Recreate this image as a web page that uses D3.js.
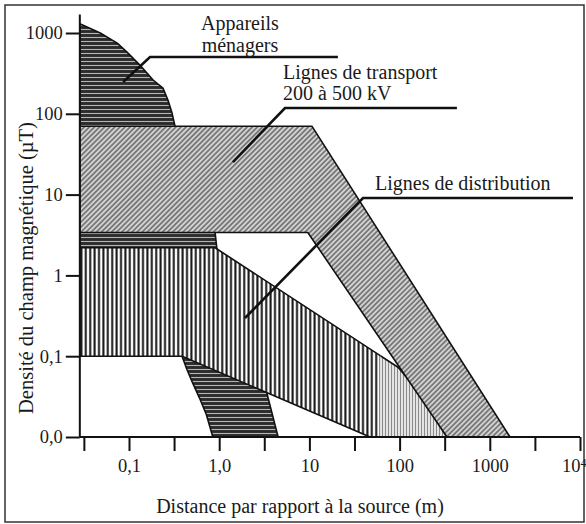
<!DOCTYPE html>
<html>
<head>
<meta charset="utf-8">
<script src="https://cdn.jsdelivr.net/npm/d3@7"></script>
<style>
  body { margin: 0; background: #fff; }
  svg { display: block; }
  text { font-family: "Liberation Serif", "Times New Roman", serif; fill: #1a1a1a; }
</style>
</head>
<body>
<div id="chart"></div>
<script>
// Champ magnetique vs distance
// [distance (m), densite (µT)]
const xTicks = [0.1, 1, 10, 100, 1000, 10000]
const xTickLabels = ['0,1', '1,0', '10', '100', '1000', '10']
const xHalfTicks = [0.0316, 0.316, 3.16, 31.6, 316, 3162]
const yTicks = [1000, 100, 10, 1, 0.1, 0.01]
const yTickLabels = ['1000', '100', '10', '1', '0,1', '0,0']

const appareils = [
  [0.0285, 1300], [0.048, 1000], [0.074, 750], [0.095, 580], [0.132, 400],
  [0.185, 262], [0.238, 208], [0.27, 148], [0.30, 102], [0.324, 70],
  [0.9, 3.4], [0.94, 2.2], [3.2, 0.044], [4.5, 0.01], [0.85, 0.01],
  [0.72, 0.019], [0.6, 0.031], [0.51, 0.046], [0.44, 0.068], [0.387, 0.1],
  [0.0285, 0.5]
]
const distribution = [
  [0.0285, 2.2], [0.9, 2.2], [96, 0.073], [159, 0.038], [335, 0.01],
  [47, 0.01], [0.387, 0.1], [0.0285, 0.1]
]
const transport = [
  [0.0285, 70], [10.7, 70], [1675, 0.01], [335, 0.01], [9.6, 3.4], [0.0285, 3.4]
]
const distributionTailFrom = 61

// leader lines for the labels
const leaderAppareils = [[20.7, 505], [0.171, 505], [0.086, 248]]
const leaderTransport = [[432, 118], [5.36, 118], [1.42, 25.3]]
const leaderDistribution = [[8356, 9.08], [39.3, 9.08], [1.93, 0.297]]

let chart = {
  width: 586,
  height: 524,
  xMin: 0.0285,
  yMax: 1700,
}

chart.x = d3.scaleLog().domain([0.1, 10000]).range([129, 580])
chart.y = d3.scaleLog().domain([0.01, 1000]).range([437, 33])

chart.svg = d3.select('#chart')
  .append('svg')
  .attr('width', chart.width)
  .attr('height', chart.height)

// frame of the scan
chart.svg.append('rect')
  .attr('x', 5).attr('y', 5)
  .attr('width', 579).attr('height', 517)
  .attr('fill', 'none')
  .attr('stroke', '#333')
  .attr('stroke-width', 1.5)

// hatch patterns
let defs = chart.svg.append('defs')

let pApp = defs.append('pattern')
  .attr('id', 'hatch-app')
  .attr('patternUnits', 'userSpaceOnUse')
  .attr('width', 8).attr('height', 4)
pApp.append('rect').attr('width', 8).attr('height', 4).attr('fill', '#2b2b2b')
pApp.append('line').attr('x1', 0).attr('x2', 8).attr('y1', 1.5).attr('y2', 1.5)
  .attr('stroke', '#b5b5b5').attr('stroke-width', 1.1)

let pTr = defs.append('pattern')
  .attr('id', 'hatch-tr')
  .attr('patternUnits', 'userSpaceOnUse')
  .attr('width', 3.6).attr('height', 3.6)
  .attr('patternTransform', 'rotate(45)')
pTr.append('rect').attr('width', 3.6).attr('height', 3.6).attr('fill', '#d2d2d2')
pTr.append('line').attr('x1', 1.8).attr('x2', 1.8).attr('y1', 0).attr('y2', 3.6)
  .attr('stroke', '#5e5e5e').attr('stroke-width', 1.4)

let pDist = defs.append('pattern')
  .attr('id', 'hatch-dist')
  .attr('patternUnits', 'userSpaceOnUse')
  .attr('width', 4.4).attr('height', 4)
pDist.append('rect').attr('width', 4.4).attr('height', 4).attr('fill', '#fff')
pDist.append('line').attr('x1', 2.2).attr('x2', 2.2).attr('y1', 0).attr('y2', 4)
  .attr('stroke', '#111').attr('stroke-width', 2)

let pTail = defs.append('pattern')
  .attr('id', 'hatch-tail')
  .attr('patternUnits', 'userSpaceOnUse')
  .attr('width', 3).attr('height', 4)
pTail.append('rect').attr('width', 3).attr('height', 4).attr('fill', '#eee')
pTail.append('line').attr('x1', 1.5).attr('x2', 1.5).attr('y1', 0).attr('y2', 4)
  .attr('stroke', '#8a8a8a').attr('stroke-width', 1.2)

defs.append('clipPath').attr('id', 'clip-main')
  .append('rect')
  .attr('x', 0).attr('y', 0)
  .attr('width', chart.x(distributionTailFrom)).attr('height', chart.height)
defs.append('clipPath').attr('id', 'clip-tail')
  .append('rect')
  .attr('x', chart.x(distributionTailFrom)).attr('y', 0)
  .attr('width', chart.width).attr('height', chart.height)

let line = d3.line()
  .x((d) => chart.x(d[0]))
  .y((d) => chart.y(d[1]))

function area(data, fill, clip) {
  let p = chart.svg.append('path')
    .datum(data)
    .attr('d', (d) => line(d) + 'Z')
    .attr('fill', fill)
    .attr('stroke', '#111')
    .attr('stroke-width', 1.6)
    .attr('stroke-linejoin', 'round')
  if (clip) p.attr('clip-path', clip)
  return p
}

area(appareils, 'url(#hatch-app)')
area(distribution, 'url(#hatch-dist)', 'url(#clip-main)')
area(distribution, 'url(#hatch-tail)', 'url(#clip-tail)')
area(transport, 'url(#hatch-tr)')

// axes
let yAxis = d3.axisLeft(chart.y)
  .tickValues(yTicks)
  .tickFormat((d, i) => yTickLabels[i])
  .tickSize(14)
  .tickPadding(3)

let xAxis = d3.axisBottom(chart.x)
  .tickValues(xTicks)
  .tickFormat((d, i) => xTickLabels[i])
  .tickSize(14)
  .tickPadding(8)

let xHalf = d3.axisBottom(chart.x)
  .tickValues(xHalfTicks)
  .tickFormat('')
  .tickSize(14)

let gy = chart.svg.append('g').attr('transform', `translate(${chart.x(chart.xMin)},0)`).call(yAxis)
let gx = chart.svg.append('g').attr('transform', `translate(0,${chart.y(0.01)})`).call(xAxis)
let gh = chart.svg.append('g').attr('transform', `translate(0,${chart.y(0.01)})`).call(xHalf)

;[gy, gx, gh].forEach((g) => {
  g.select('.domain').remove()
  g.selectAll('line').attr('stroke', '#111').attr('stroke-width', 2)
  g.selectAll('text')
    .style('font-family', '"Liberation Serif", serif')
    .style('font-size', '18.5px')
    .attr('fill', '#1a1a1a')
})

// last label is 10 to the 4th, squeezed against the frame
gx.selectAll('.tick text')
  .filter((d) => d === 10000)
  .attr('text-anchor', 'end')
  .attr('dx', 6)
  .append('tspan')
  .attr('dy', '-0.45em')
  .style('font-size', '12px')
  .text('4')

chart.svg.append('line')
  .attr('x1', chart.x(chart.xMin)).attr('x2', chart.x(chart.xMin))
  .attr('y1', chart.y(chart.yMax)).attr('y2', chart.y(0.01))
  .attr('stroke', '#111').attr('stroke-width', 2)
chart.svg.append('line')
  .attr('x1', chart.x(chart.xMin)).attr('x2', chart.x(10000))
  .attr('y1', chart.y(0.01)).attr('y2', chart.y(0.01))
  .attr('stroke', '#111').attr('stroke-width', 2)

// axis titles
chart.svg.append('text')
  .attr('x', 300).attr('y', 513)
  .attr('text-anchor', 'middle')
  .style('font-size', '20px')
  .text('Distance par rapport à la source (m)')

chart.svg.append('text')
  .attr('transform', 'translate(33,268) rotate(-90)')
  .attr('text-anchor', 'middle')
  .style('font-size', '20.5px')
  .text('Densité du champ magnétique (µT)')

// labels and leaders
;[leaderAppareils, leaderTransport, leaderDistribution].forEach((pts) => {
  chart.svg.append('path')
    .datum(pts)
    .attr('d', line)
    .attr('fill', 'none')
    .attr('stroke', '#111')
    .attr('stroke-width', 2.6)
})

let labels = [
  {text: 'Appareils', x: 240, y: 30, anchor: 'middle'},
  {text: 'ménagers', x: 240, y: 52, anchor: 'middle'},
  {text: 'Lignes de transport', x: 283, y: 79, anchor: 'start'},
  {text: '200 à 500 kV', x: 283, y: 100, anchor: 'start'},
  {text: 'Lignes de distribution', x: 375, y: 190, anchor: 'start'},
]

chart.svg.selectAll('.label')
  .data(labels)
  .enter()
  .append('text')
  .attr('class', 'label')
  .attr('x', (d) => d.x)
  .attr('y', (d) => d.y)
  .attr('text-anchor', (d) => d.anchor)
  .style('font-size', '20px')
  .text((d) => d.text)
</script>
</body>
</html>
